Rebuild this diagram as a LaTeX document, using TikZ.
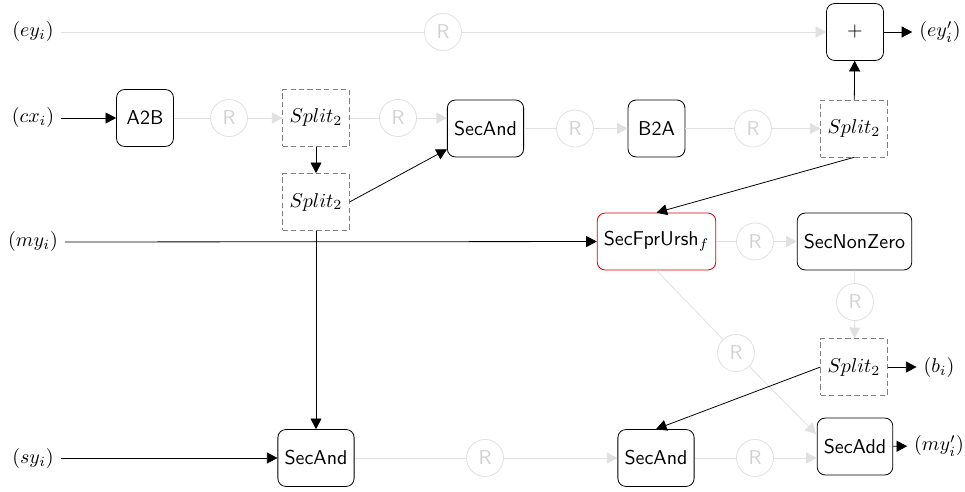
\documentclass[tikz,border=0pt]{standalone}
\usetikzlibrary{arrows.meta}
\begin{document}
\begin{tikzpicture}[x=0.5pt,y=-0.5pt,
  box/.style={draw, rounded corners=4pt, minimum size=1cm, font=\sffamily, fill=white},
  redbox/.style={box, draw=red!85!black},
  splitbox/.style={draw=gray, dash pattern=on 2.6pt off 1.6pt, minimum size=1cm, fill=white},
  rnode/.style={circle, draw=black!12, text=black!18, font=\sffamily, minimum size=18.5pt, inner sep=0pt},
  lbl/.style={inner sep=3.33pt},
  arr/.style={-{Triangle[length=5.3pt,width=5.5pt]}},
  lline/.style={draw=black!12},
  larr/.style={draw=black!12, -{Triangle[length=5.3pt,width=5.5pt]}}]
\useasboundingbox (0,0) rectangle (965,492);
% labels
\node[lbl] (ey) at (33,32) {$(ey_i)$};
\node[lbl] (cx) at (33,118) {$(cx_i)$};
\node[lbl] (my) at (33,242) {$(my_i)$};
\node[lbl] (sy) at (33,458) {$(sy_i)$};
\node[lbl] (eyp) at (940,32) {$(ey'_i)$};
\node[lbl] (bi) at (939,367) {$(b_i)$};
\node[lbl] (myp) at (939,446) {$(my'_i)$};
% boxes
\node[box] (plus) at (855,32) {$+$};
\node[box] (a2b) at (145,118) {A2B};
\node[splitbox] (sp1) at (316,118) {$Split_2$};
\node[box] (and1) at (485.5,128.5) {SecAnd};
\node[box] (b2a) at (656.5,128.5) {B2A};
\node[splitbox] (sp3) at (854,128.5) {$Split_2$};
\node[splitbox] (sp2) at (316,202) {$Split_2$};
\node[redbox] (fpr) at (656.5,241.5) {SecFprUrsh$_f$};
\node[box] (nz) at (854.5,241.5) {SecNonZero};
\node[splitbox] (sp4) at (854,367) {$Split_2$};
\node[box] (sadd) at (855,446.5) {SecAdd};
\node[box] (and2) at (316,458) {SecAnd};
\node[box] (and3) at (656,458) {SecAnd};
% R nodes
\node[rnode] (R1) at (443,32) {R};
\node[rnode] (R2) at (229,118) {R};
\node[rnode] (R3) at (398,118) {R};
\node[rnode] (R4) at (575,128.5) {R};
\node[rnode] (R5) at (753,128.5) {R};
\node[rnode] (R6) at (755,241.5) {R};
\node[rnode] (R7) at (855,302) {R};
\node[rnode] (R8) at (736,353) {R};
\node[rnode] (R9) at (485,458) {R};
\node[rnode] (R10) at (755,458) {R};
\coordinate (saddin) at (816,434);
% light connectors
\draw[lline] (ey) -- (R1);
\draw[larr] (R1) -- (plus);
\draw[lline] (a2b) -- (R2);
\draw[larr] (R2) -- (sp1);
\draw[lline] (sp1) -- (R3);
\draw[larr] (R3) -- (R3 -| and1.west);
\draw[lline] (and1) -- (R4);
\draw[larr] (R4) -- (b2a);
\draw[lline] (b2a) -- (R5);
\draw[larr] (R5) -- (sp3);
\draw[lline] (fpr) -- (R6);
\draw[larr] (R6) -- (nz);
\draw[lline] (nz) -- (R7);
\draw[larr] (R7) -- (sp4);
\draw[lline] (fpr.south) -- (R8);
\draw[larr] (R8) -- (saddin);
\draw[lline] (and2) -- (R9);
\draw[larr] (R9) -- (and3);
\draw[lline] (and3) -- (R10);
\draw[larr] (R10) -- (R10 -| sadd.west);
% black connectors
\draw[arr] (cx) -- (a2b);
\draw[arr] (plus) -- (eyp);
\draw[arr] (sp1) -- (sp2);
\draw[arr] (sp2.east) -- (and1);
\draw[arr] (sp3) -- (plus);
\draw[arr] (sp3.south) -- (fpr.north);
\draw[arr] (my) -- (fpr);
\draw[arr] (sp2) -- (and2);
\draw[arr] (sy) -- (and2);
\draw[arr] (sp4) -- (bi);
\draw[arr] (sp4.west) -- (and3.north);
\draw[arr] (sadd) -- (myp);
\end{tikzpicture}
\end{document}
